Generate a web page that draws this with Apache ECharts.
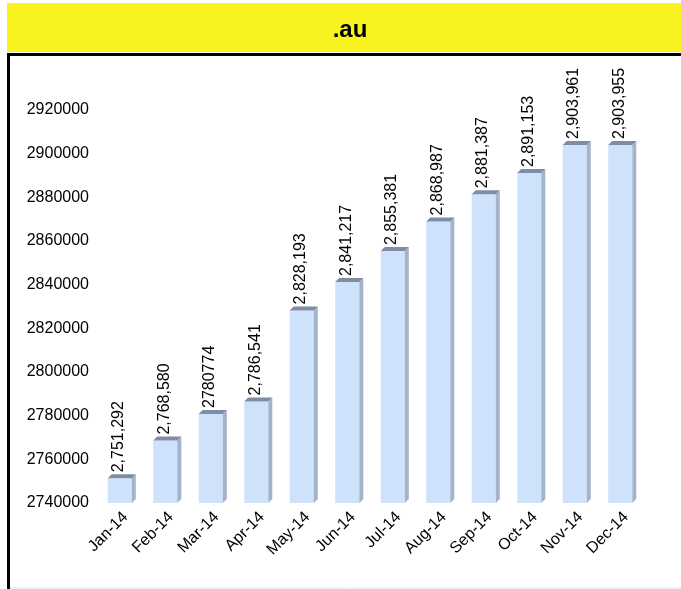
<!DOCTYPE html>
<html>
<head>
<meta charset="utf-8">
<script src="https://cdn.jsdelivr.net/npm/echarts@6/dist/echarts.min.js"></script>
<style>
html,body{margin:0;padding:0;background:#fff;}
#chart{width:681px;height:589px;}
</style>
</head>
<body>
<div id="chart"></div>
<script>
var titleText = '.au';
var categories = ['Jan-14','Feb-14','Mar-14','Apr-14','May-14','Jun-14','Jul-14','Aug-14','Sep-14','Oct-14','Nov-14','Dec-14'];
var values = [2751292, 2768580, 2780774, 2786541, 2828193, 2841217, 2855381, 2868987, 2881387, 2891153, 2903961, 2903955];
var valueLabels = ['2,751,292','2,768,580','2780774','2,786,541','2,828,193','2,841,217','2,855,381','2,868,987','2,881,387','2,891,153','2,903,961','2,903,955'];
var yMin = 2740000, yMax = 2920000, yStep = 20000;

var FONT = '"Liberation Sans", Arial, sans-serif';
var chart = echarts.init(document.getElementById('chart'), null, {renderer:'canvas'});

function renderBar(params, api) {
  var idx = api.value(0);
  var val = api.value(1);
  var top = api.coord([idx, val]);
  var base = api.coord([idx, yMin]);
  var band = api.size([1, 0])[0];
  var w = band * 0.53;
  var d = 4;
  var x0 = top[0] - w / 2, x1 = top[0] + w / 2;
  var yt = top[1], yb = base[1];
  return {
    type: 'group',
    children: [
      {type:'rect', shape:{x:x0, y:yt, width:w, height:yb-yt}, style:{fill:'#cfe2fc'}},
      {type:'polygon', shape:{points:[[x1,yt],[x1+d,yt-d],[x1+d,yb-d],[x1,yb]]}, style:{fill:'#a3b3ca'}},
      {type:'polygon', shape:{points:[[x0,yt],[x0+d,yt-d],[x1+d,yt-d],[x1,yt]]}, style:{fill:'#7e8da4'}},
      {type:'text', x: top[0] - 1, y: yt - d - 2, rotation: Math.PI/2,
        style:{text: valueLabels[idx], fill:'#000', font:'16px ' + FONT, align:'left', verticalAlign:'middle'}}
    ]
  };
}

chart.setOption({
  animation: false,
  backgroundColor: '#fff',
  title: {
    text: titleText, left: 345, top: 13, textAlign: 'center',
    textStyle: {fontFamily: FONT, fontWeight: 'bold', fontSize: 24, color: '#000'}
  },
  graphic: [
    {type:'rect', shape:{x:7, y:3, width:674, height:49}, style:{fill:'#f8f31f'}, z:-1},
    {type:'line', shape:{x1:7, y1:54.5, x2:681, y2:54.5}, style:{stroke:'#000', lineWidth:3}},
    {type:'line', shape:{x1:8.5, y1:53, x2:8.5, y2:589}, style:{stroke:'#000', lineWidth:3}},
    {type:'line', shape:{x1:10, y1:588, x2:681, y2:588}, style:{stroke:'#e4e4e4', lineWidth:1}}
  ],
  grid: {left: 97, right: 38, top: 110, bottom: 86},
  xAxis: {
    type: 'category', data: categories,
    axisLine: {show:false}, axisTick: {show:false},
    axisLabel: {rotate: 45, margin: 6, fontSize: 16, fontFamily: FONT, color: '#000', interval: 0, verticalAlign: 'top'}
  },
  yAxis: {
    type: 'value', min: yMin, max: yMax, interval: yStep,
    axisLine: {show:false}, axisTick: {show:false}, splitLine: {show:false},
    axisLabel: {margin: 8, fontSize: 16, fontFamily: FONT, color: '#000', formatter: function(v){ return String(v); }}
  },
  series: [{
    type: 'custom',
    renderItem: renderBar,
    clip: false,
    data: values.map(function(v, i){ return [i, v]; }),
    encode: {x: 0, y: 1}
  }]
});
</script>
</body>
</html>
